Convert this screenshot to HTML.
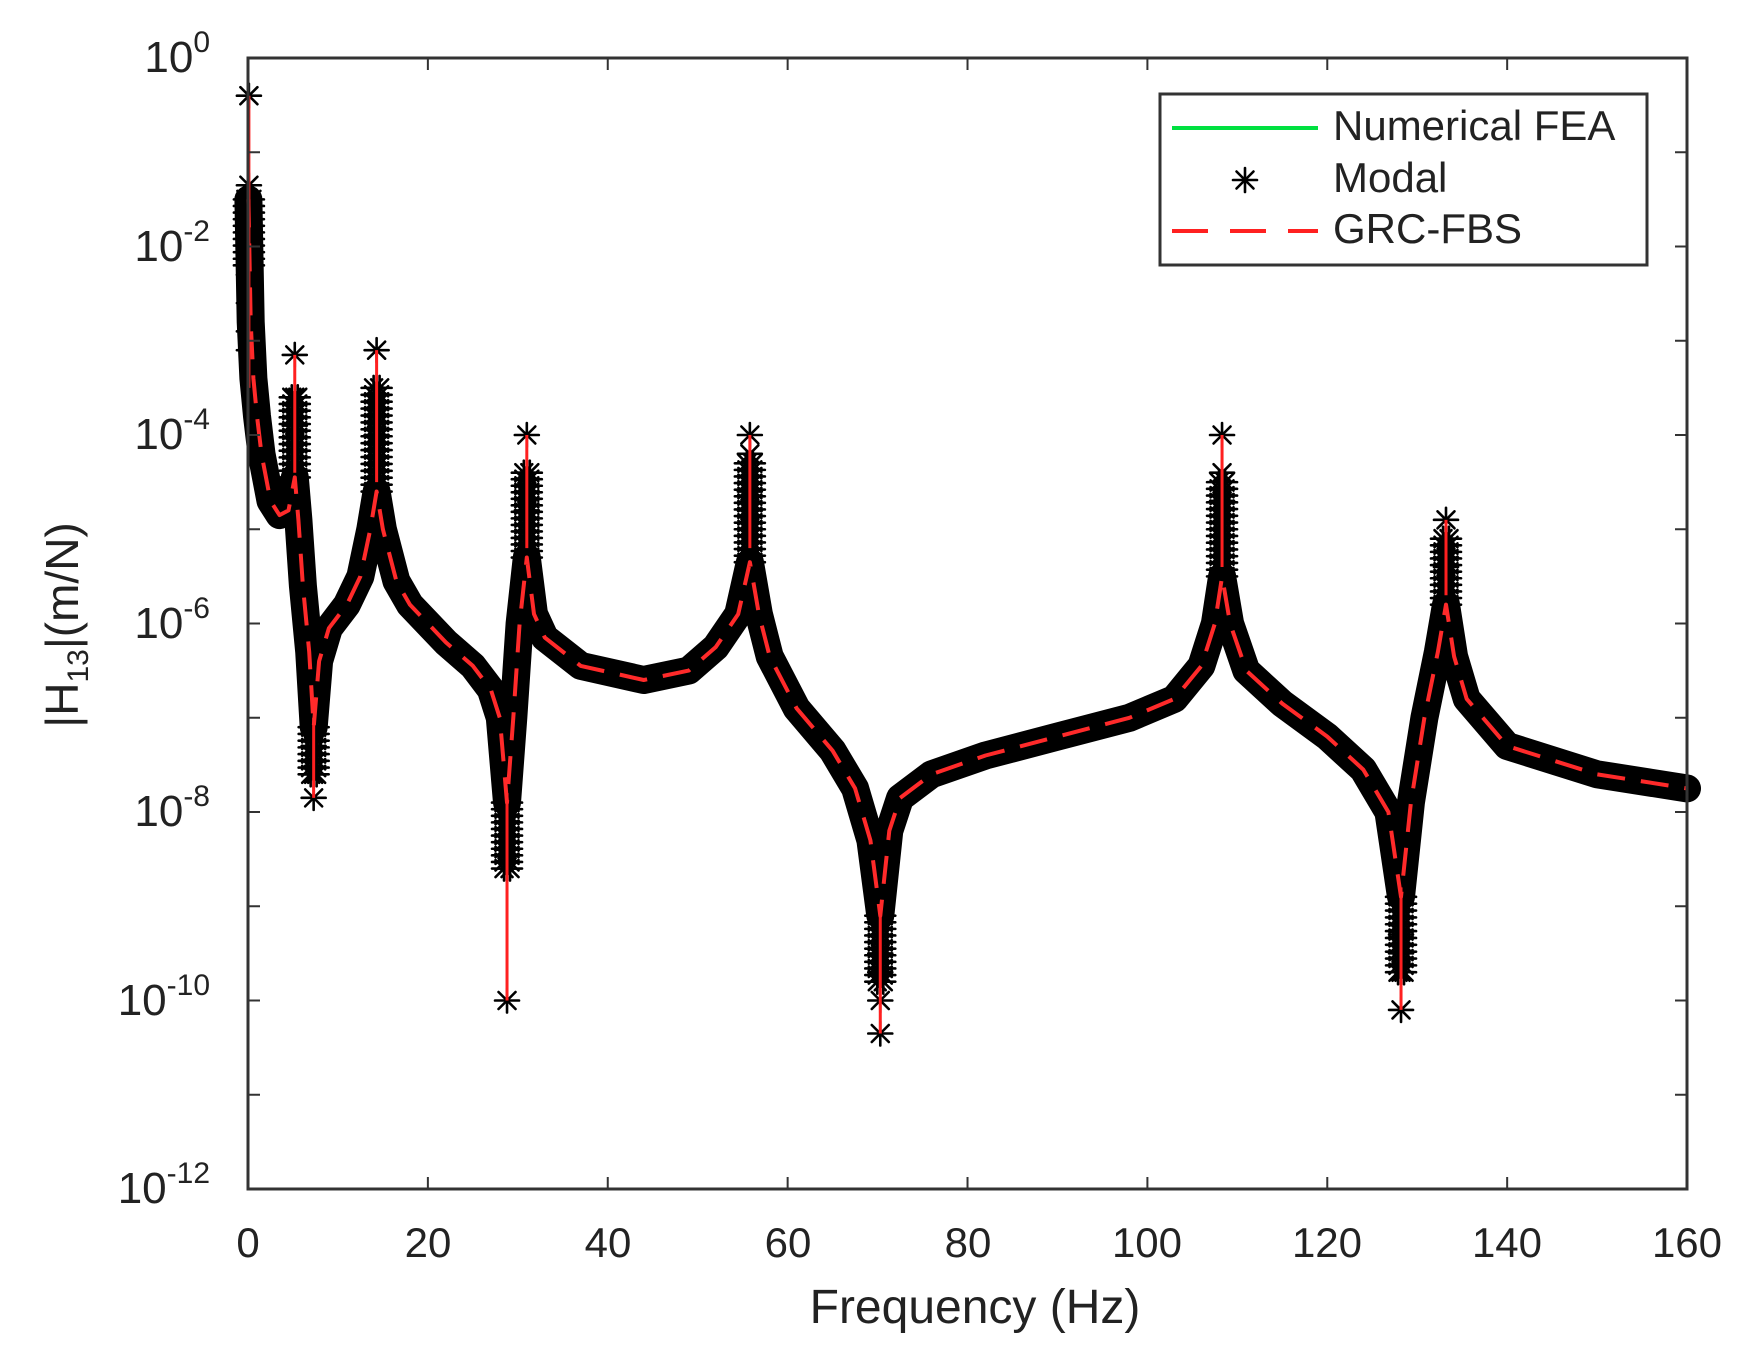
<!DOCTYPE html>
<html><head><meta charset="utf-8"><style>
html,body{margin:0;padding:0;background:#fff;overflow:hidden;}
svg{display:block;}
text{font-family:"Liberation Sans",Arial,sans-serif;fill:#222;}
</style></head><body>
<svg id="s" width="1759" height="1358" viewBox="0 0 1759 1358" xmlns="http://www.w3.org/2000/svg">
<defs>
<g id="st" stroke="#000" stroke-width="2.6" stroke-linecap="round">
<line x1="-12" y1="0" x2="12" y2="0"/><line x1="0" y1="-12" x2="0" y2="12"/>
<line x1="-8.5" y1="-8.5" x2="8.5" y2="8.5"/><line x1="-8.5" y1="8.5" x2="8.5" y2="-8.5"/>
</g>
</defs>
<g id="plot"></g>
<rect x="248" y="58" width="1439" height="1131" fill="none" stroke="#333" stroke-width="3"/>
<g id="ticks" stroke="#333" stroke-width="2"></g>
<g font-size="42" text-anchor="middle">
<text x="248" y="1257">0</text><text x="428" y="1257">20</text><text x="608" y="1257">40</text>
<text x="788" y="1257">60</text><text x="968" y="1257">80</text><text x="1147" y="1257">100</text>
<text x="1327" y="1257">120</text><text x="1507" y="1257">140</text><text x="1687" y="1257">160</text>
</g>
<g font-size="44" text-anchor="end">
<text x="210" y="72">10<tspan font-size="30" dy="-20">0</tspan></text>
<text x="210" y="261">10<tspan font-size="30" dy="-20">-2</tspan></text>
<text x="210" y="449">10<tspan font-size="30" dy="-20">-4</tspan></text>
<text x="210" y="638">10<tspan font-size="30" dy="-20">-6</tspan></text>
<text x="210" y="826">10<tspan font-size="30" dy="-20">-8</tspan></text>
<text x="210" y="1015">10<tspan font-size="30" dy="-20">-10</tspan></text>
<text x="210" y="1203">10<tspan font-size="30" dy="-20">-12</tspan></text>
</g>
<text x="975" y="1323" font-size="48" text-anchor="middle">Frequency (Hz)</text>
<text transform="translate(78,625) rotate(-90)" font-size="46" text-anchor="middle">|H<tspan font-size="30" dy="10">13</tspan><tspan dy="-10">|(m/N)</tspan></text>
<rect x="1160" y="94" width="487" height="171" fill="#fff" stroke="#333" stroke-width="3"/>
<line x1="1172" y1="128" x2="1318" y2="128" stroke="#00e040" stroke-width="4"/>
<use href="#st" x="1245" y="180"/>
<line x1="1172" y1="231" x2="1318" y2="231" stroke="#ff2020" stroke-width="4" stroke-dasharray="36,22"/>
<g font-size="42"><text x="1333" y="140">Numerical FEA</text><text x="1333" y="192">Modal</text><text x="1333" y="243">GRC-FBS</text></g>
</svg>
<script>
var NS="http://www.w3.org/2000/svg";
function X(f){return 248+f*8.994;}
function Y(l){return 58-l*94.25;}
function el(t,a,p){var e=document.createElementNS(NS,t);for(var k in a)e.setAttribute(k,a[k]);p.appendChild(e);return e;}
var P=[[0.05,-1.5],[0.3,-2.8],[0.6,-3.4],[1,-3.8],[1.5,-4.2],[2.5,-4.7],[3.5,-4.85],[4.5,-4.8],[5.2,-4.45],[5.6,-4.9],[6.1,-5.6],[6.8,-6.3],[7.3,-7.1],[7.9,-6.4],[9,-6.05],[11,-5.8],[12.5,-5.5],[13.6,-5.0],[14.3,-4.6],[15,-5.0],[16.5,-5.55],[18,-5.8],[22,-6.2],[25,-6.45],[27,-6.7],[28,-7.0],[28.8,-7.9],[29.5,-7.0],[30.2,-6.0],[31,-5.3],[31.8,-5.9],[33,-6.15],[37,-6.45],[44,-6.6],[49,-6.5],[52,-6.25],[54.5,-5.9],[55.8,-5.35],[56.8,-5.9],[58,-6.35],[61,-6.9],[65,-7.35],[67.5,-7.75],[69.2,-8.3],[70.3,-9.1],[71.3,-8.2],[72.5,-7.85],[76,-7.6],[82,-7.4],[90,-7.2],[98,-7.0],[103,-6.8],[106,-6.45],[107.5,-6.0],[108.3,-5.5],[109.2,-6.0],[111,-6.5],[115,-6.85],[120,-7.2],[124,-7.55],[126.8,-8.0],[128.2,-8.9],[129.3,-7.9],[130.8,-7.0],[132.3,-6.3],[133.2,-5.8],[134.1,-6.35],[135.5,-6.8],[140,-7.3],[150,-7.6],[160,-7.75]];
var g=document.getElementById('plot');
function path(pts){return pts.map(function(p,i){return (i?'L':'M')+X(p[0]).toFixed(1)+','+Y(p[1]).toFixed(1);}).join('');}
el('path',{d:path(P),fill:'none',stroke:'#000','stroke-width':28,'stroke-linejoin':'round','stroke-linecap':'round'},g);
for(var i=0;i<P.length-1;i++){var a=P[i],b=P[i+1];var dx=X(b[0])-X(a[0]),dy=Y(b[1])-Y(a[1]);var L=Math.sqrt(dx*dx+dy*dy);var n=Math.max(1,Math.floor(L/10));for(var k=0;k<n;k++){var t=k/n;el('use',{href:'#st',x:(X(a[0])+dx*t).toFixed(1),y:(Y(a[1])+dy*t).toFixed(1)},g);}}
// dense star columns extending band toward spike tips
var D=[[0.1,-1.5,-2.2],[5.2,-4.45,-3.6],[7.3,-7.1,-7.6],[14.3,-4.6,-3.5],[28.8,-7.9,-8.6],[31,-5.3,-4.4],[55.8,-5.35,-4.3],[70.3,-9.1,-9.8],[108.3,-5.5,-4.5],[128.2,-8.9,-9.7],[133.2,-5.8,-5.1]];
D.forEach(function(d){var x=X(d[0]),y1=Y(d[1]),y2=Y(d[2]);var n=Math.ceil(Math.abs(y2-y1)/7);for(var k=0;k<=n;k++){var y=y1+(y2-y1)*k/n;el('use',{href:'#st',x:x-3,y:y},g);el('use',{href:'#st',x:x+3,y:y},g);}});
var S=[[0.1,-3.5,-0.4,[-0.4,-1.35,-1.8,-2.1,-2.3,-2.6,-2.9,-3.1]],[5.2,-4.4,-3.15,[-3.15,-3.6,-3.9]],[7.3,-7.0,-7.85,[-7.85,-7.6,-7.3]],[14.3,-4.5,-3.1,[-3.1,-3.65,-4.0]],[28.8,-7.8,-10.0,[-10.0,-8.4,-8.1]],[31,-5.2,-4.0,[-4.0,-4.6,-4.8]],[55.8,-5.2,-4.0,[-4.0,-4.2,-4.6,-4.8]],[70.3,-9.0,-10.35,[-10.35,-10.0,-9.7,-9.5]],[108.3,-5.4,-4.0,[-4.0,-4.4,-4.7]],[128.2,-8.8,-10.1,[-10.1,-9.7,-9.5,-9.3]],[133.2,-5.7,-4.9,[-4.9,-5.3,-5.4]]];
S.forEach(function(s){var x=X(s[0]);s[3].forEach(function(l){el('use',{href:'#st',x:x,y:Y(l)},g);});el('line',{x1:x,y1:Y(s[1]),x2:x,y2:Y(s[2]),stroke:'#ff2020','stroke-width':3},g);});
el('path',{d:path(P),fill:'none',stroke:'#ff2a2a','stroke-width':4,'stroke-dasharray':'28,16','stroke-linejoin':'round'},g);
var tk=document.getElementById('ticks');
for(var f=0;f<=160;f+=20){var x=X(f);el('line',{x1:x,y1:1189,x2:x,y2:1177},tk);el('line',{x1:x,y1:58,x2:x,y2:70},tk);}
for(var l=0;l>=-12;l--){var y=Y(l);el('line',{x1:248,y1:y,x2:260,y2:y},tk);el('line',{x1:1687,y1:y,x2:1675,y2:y},tk);}
</script>
</body></html>
